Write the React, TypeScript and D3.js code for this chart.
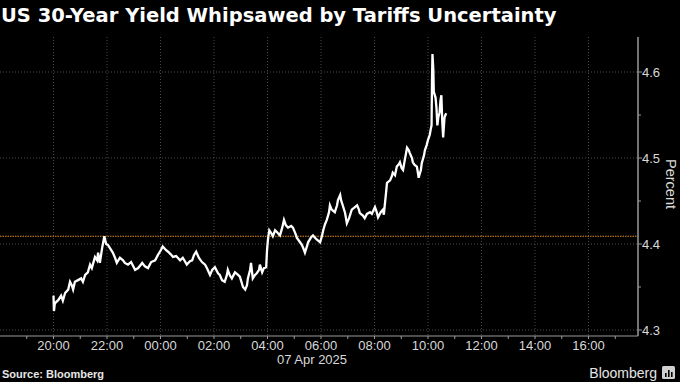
import React from "react";
import * as d3 from "d3";

const times = [
  "20:00","20:01","20:03","20:11","20:17","20:21","20:26","20:33","20:37","20:41","20:44","20:48","20:55",
  "21:02","21:06","21:11","21:17","21:22","21:26","21:33","21:38","21:40","21:44","21:49","21:54","21:58",
  "22:02","22:07","22:13","22:18","22:22","22:29","22:36","22:40","22:47","22:54",
  "23:03","23:10","23:19","23:25","23:32","23:39","23:48","23:54",
  "00:01","00:05","00:12","00:17","00:23","00:28","00:35","00:44","00:50","00:59",
  "01:06","01:11","01:15","01:20","01:26","01:33","01:40","01:44","01:51","01:56",
  "02:02","02:09","02:13","02:18","02:24","02:29","02:31","02:36","02:40","02:47","02:54","02:58",
  "03:05","03:10","03:14","03:16","03:21","03:23","03:27","03:32","03:36","03:41","03:43","03:48","03:52","03:57","03:59",
  "04:01","04:04","04:08","04:12","04:17","04:21","04:28","04:33","04:37","04:41","04:46","04:53","04:57",
  "05:02","05:06","05:13","05:17","05:22","05:24","05:29","05:31","05:38","05:42","05:47","05:51","05:58",
  "06:02","06:05","06:09","06:13","06:18","06:20","06:24","06:31","06:36","06:38","06:43","06:45","06:50","06:54","06:58",
  "07:03","07:09","07:14","07:21","07:25","07:27","07:34","07:38","07:43","07:50","07:54",
  "08:01","08:05","08:08","08:14","08:19","08:21","08:23","08:26","08:28","08:35","08:39","08:41","08:46","08:50","08:55","08:57",
  "09:01","09:04","09:08","09:13","09:17","09:19","09:24","09:26","09:30","09:35","09:37","09:39","09:44","09:46","09:51","09:53","09:57",
  "10:00","10:04","10:06","10:08","10:09","10:10","10:12","10:13","10:17","10:19","10:21","10:23","10:26","10:28","10:30","10:32","10:34","10:37","10:39","10:41"
];

const yields = [
  4.340,4.322,4.331,4.335,4.340,4.334,4.343,4.347,4.356,4.352,4.347,4.356,4.358,
  4.360,4.356,4.364,4.367,4.376,4.372,4.385,4.381,4.390,4.378,4.395,4.409,4.400,
  4.399,4.395,4.390,4.384,4.378,4.384,4.381,4.378,4.376,4.379,
  4.370,4.372,4.378,4.374,4.372,4.379,4.381,4.387,
  4.393,4.397,4.393,4.391,4.388,4.385,4.386,4.381,4.384,4.376,
  4.380,4.381,4.387,4.391,4.384,4.379,4.376,4.372,4.364,4.370,
  4.373,4.366,4.364,4.358,4.356,4.364,4.370,4.363,4.360,4.367,4.364,4.362,
  4.350,4.347,4.352,4.360,4.370,4.378,4.360,4.364,4.366,4.370,4.376,4.367,4.372,4.373,4.393,
  4.405,4.416,4.413,4.409,4.416,4.414,4.410,4.419,4.428,4.422,4.419,4.421,4.419,
  4.413,4.407,4.402,4.399,4.393,4.390,4.398,4.402,4.408,4.410,4.407,4.405,4.402,
  4.409,4.416,4.423,4.428,4.437,4.445,4.440,4.437,4.445,4.451,4.457,4.451,4.443,4.436,4.424,
  4.430,4.440,4.442,4.445,4.440,4.436,4.433,4.430,4.435,4.437,4.435,
  4.443,4.437,4.431,4.437,4.440,4.434,4.445,4.460,4.471,4.474,4.479,4.483,4.480,4.490,4.493,4.495,
  4.488,4.486,4.498,4.512,4.509,4.506,4.500,4.495,4.492,4.490,4.484,4.477,4.486,4.494,4.503,4.509,4.515,
  4.521,4.527,4.533,4.538,4.591,4.621,4.602,4.577,4.570,4.558,4.538,4.547,4.553,4.567,4.573,4.542,4.524,4.547,4.550,4.552
];

const yTicks = [4.3, 4.4, 4.5, 4.6];
const yMinorTicks = [4.35, 4.45, 4.55];
const referenceLevel = 4.409;
const xTickHours = [20, 22, 24, 26, 28, 30, 32, 34, 36, 38, 40];
const dateLabel = "07 Apr 2025";
const title = "US 30-Year Yield Whipsawed by Tariffs Uncertainty";
const source = "Source: Bloomberg";

const W = 680;
const H = 382;

function parseTimes(ts: string[]): Date[] {
  return ts.map((t) => {
    const [h, m] = t.split(":").map(Number);
    const day = h >= 18 ? 6 : 7;
    return new Date(2025, 3, day, h, m);
  });
}

export default function App() {
  const dates = parseTimes(times);
  const data = dates.map((d, i) => ({ d, v: yields[i] }));

  const plotLeft = 0;
  const plotRight = 638;
  const plotTop = 37;
  const plotBottom = 336;

  const start = new Date(2025, 3, 6, 18, 0);
  const end = new Date(start.getTime() + (638 / 26.75) * 3600 * 1000);
  const x = d3.scaleTime().domain([start, end]).range([plotLeft, plotRight]);
  const y = d3
    .scaleLinear()
    .domain([4.3 - 6 / 860, 4.3 + 293 / 860])
    .range([plotBottom, plotTop]);

  const line = d3
    .line<{ d: Date; v: number }>()
    .x((p) => x(p.d))
    .y((p) => y(p.v));

  const hourDate = (h: number) => new Date(2025, 3, 6, h, 0);
  const majorX = xTickHours.map(hourDate);
  const minorX = d3.range(19, 42, 2).map(hourDate);
  const fmt = d3.timeFormat("%H:%M");

  const gridColor = "#4a4a4a";
  const axisColor = "#9a9a9a";
  const textColor = "#d9d9d9";
  const font = "'Liberation Sans', Arial, sans-serif";

  return (
    <svg
      width={W}
      height={H}
      style={{ position: "absolute", left: 0, top: 0, background: "#000", display: "block" }}
      fontFamily={font}
    >
      <rect x={0} y={0} width={W} height={H} fill="#000" />
      <text x={1} y={22} fill="#fff" fontSize={19.5} fontWeight="bold" fontFamily="'DejaVu Sans', sans-serif">
        {title}
      </text>

      {/* horizontal grid */}
      {yTicks.map((t) => (
        <line
          key={"hg" + t}
          x1={plotLeft}
          x2={plotRight}
          y1={y(t)}
          y2={y(t)}
          stroke={gridColor}
          strokeWidth={1}
          strokeDasharray="1,2"
        />
      ))}
      {/* vertical grid */}
      {majorX.map((d, i) => (
        <line
          key={"vg" + i}
          x1={x(d)}
          x2={x(d)}
          y1={plotTop}
          y2={plotBottom}
          stroke={gridColor}
          strokeWidth={1}
          strokeDasharray="1,2"
        />
      ))}

      {/* reference line */}
      <line
        x1={plotLeft}
        x2={plotRight}
        y1={y(referenceLevel)}
        y2={y(referenceLevel)}
        stroke="#e08a2a"
        strokeWidth={1.2}
        strokeDasharray="1.5,1"
      />

      {/* series */}
      <path d={line(data) || ""} fill="none" stroke="#fff" strokeWidth={2.3} strokeLinejoin="miter" />

      {/* x axis */}
      <line x1={plotLeft} x2={plotRight} y1={plotBottom} y2={plotBottom} stroke={axisColor} strokeWidth={1} />
      {majorX.map((d, i) => (
        <g key={"xt" + i}>
          <line x1={x(d)} x2={x(d)} y1={plotBottom} y2={plotBottom + 3} stroke={axisColor} />
          <text x={x(d)} y={plotBottom + 14} fill={textColor} fontSize={13} textAnchor="middle">
            {fmt(d)}
          </text>
        </g>
      ))}
      {minorX.map((d, i) => (
        <line key={"xm" + i} x1={x(d)} x2={x(d)} y1={plotBottom} y2={plotBottom + 3} stroke={axisColor} />
      ))}
      <text x={312} y={plotBottom + 28} fill={textColor} fontSize={13} textAnchor="middle">
        {dateLabel}
      </text>

      {/* y axis */}
      <line x1={plotRight} x2={plotRight} y1={plotTop} y2={plotBottom} stroke={axisColor} strokeWidth={1.5} />
      {yTicks.map((t) => (
        <g key={"yt" + t}>
          <line x1={plotRight} x2={plotRight + 4} y1={y(t)} y2={y(t)} stroke={axisColor} />
          <text x={plotRight + 4} y={y(t) + 4.5} fill={textColor} fontSize={13}>
            {d3.format(".1f")(t)}
          </text>
        </g>
      ))}
      {yMinorTicks.map((t) => (
        <line key={"ym" + t} x1={plotRight} x2={plotRight + 3} y1={y(t)} y2={y(t)} stroke={axisColor} />
      ))}
      <text
        transform={`translate(666,184) rotate(90)`}
        fill={textColor}
        fontSize={14.5}
        textAnchor="middle"
      >
        Percent
      </text>

      {/* footer */}
      <text x={2} y={378} fill="#e6e6e6" fontSize={11} fontWeight="bold">
        {source}
      </text>
      <text x={657} y={378} fill="#e6e6e6" fontSize={14} textAnchor="end">
        Bloomberg
      </text>
      <rect x={662} y={366} width={13} height={13} rx={1.5} fill="#d0d0d0" />
      <rect x={665} y={373} width={1.6} height={4} fill="#000" />
      <rect x={668} y={370} width={1.6} height={7} fill="#000" />
      <rect x={671} y={372} width={1.6} height={5} fill="#000" />
    </svg>
  );
}
